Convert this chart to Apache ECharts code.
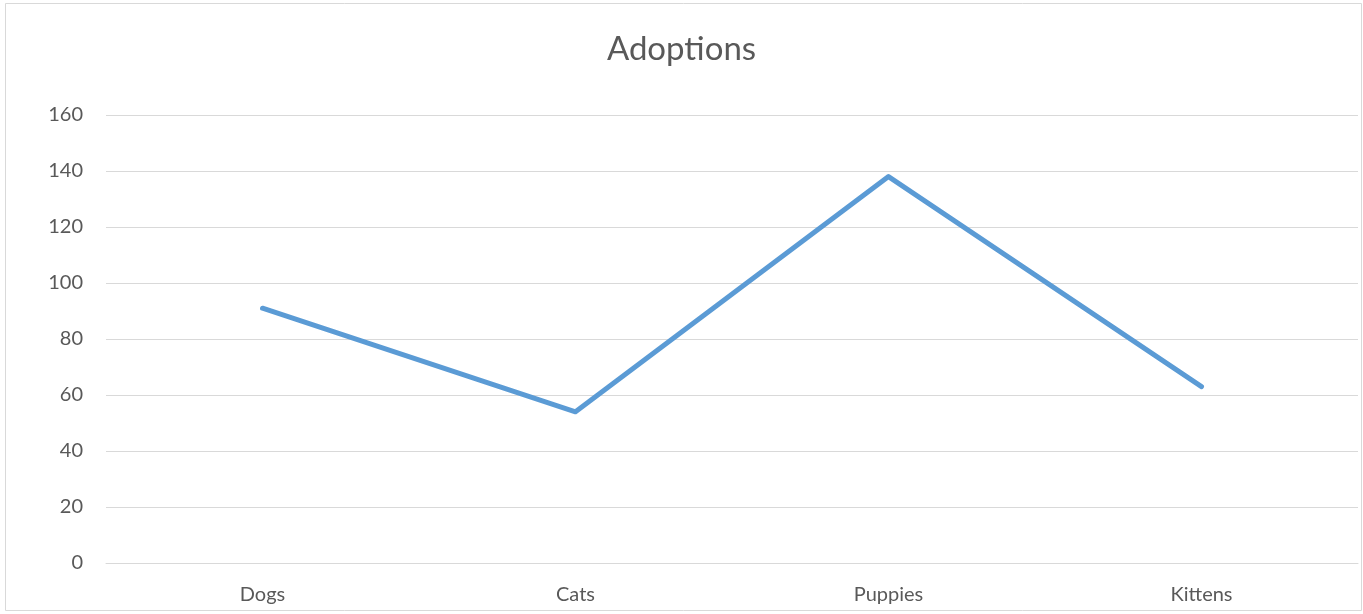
<!DOCTYPE html>
<html>
<head>
<meta charset="utf-8">
<script src="https://cdn.jsdelivr.net/npm/echarts@6/dist/echarts.min.js"></script>
<style>
html,body{margin:0;padding:0;background:#fff;}
#chart{width:1363px;height:614px;}
</style>
</head>
<body>
<div id="chart"></div>
<script>
const categories = ['Dogs', 'Cats', 'Puppies', 'Kittens'];
const adoptions = [91, 54, 138, 63];
const yTicks = { min: 0, max: 160, interval: 20 };

const chart = echarts.init(document.getElementById('chart'), null, { renderer: 'canvas' });
chart.setOption({
  animation: false,
  backgroundColor: '#ffffff',
  textStyle: { fontFamily: 'Lato, "Open Sans", sans-serif' },
  title: {
    text: 'Adoptions',
    left: 'center',
    top: 28,
    textStyle: { fontSize: 33, fontWeight: 'normal', color: '#595959', fontFamily: 'Lato, "Open Sans", sans-serif' }
  },
  graphic: [{
    type: 'rect',
    shape: { x: 5.5, y: 3.5, width: 1356, height: 607 },
    style: { fill: 'none', stroke: '#d9d9d9', lineWidth: 1 },
    silent: true
  }],
  grid: { left: 106, right: 5, top: 115, bottom: 51, containLabel: false },
  xAxis: {
    type: 'category',
    data: categories,
    boundaryGap: true,
    axisLine: { show: true, lineStyle: { color: '#d9d9d9', width: 1 } },
    axisTick: { show: false },
    axisLabel: { color: '#595959', fontSize: 20, margin: 22 },
    splitLine: { show: false }
  },
  yAxis: {
    type: 'value',
    min: yTicks.min,
    max: yTicks.max,
    interval: yTicks.interval,
    axisLine: { show: false },
    axisTick: { show: false },
    axisLabel: { color: '#595959', fontSize: 20, margin: 23 },
    splitLine: { show: true, lineStyle: { color: '#d9d9d9', width: 1 } }
  },
  series: [{
    type: 'line',
    data: adoptions,
    symbol: 'none',
    lineStyle: { color: '#5b9bd5', width: 5, cap: 'round', join: 'round' },
    itemStyle: { color: '#5b9bd5' }
  }]
});
</script>
</body>
</html>
